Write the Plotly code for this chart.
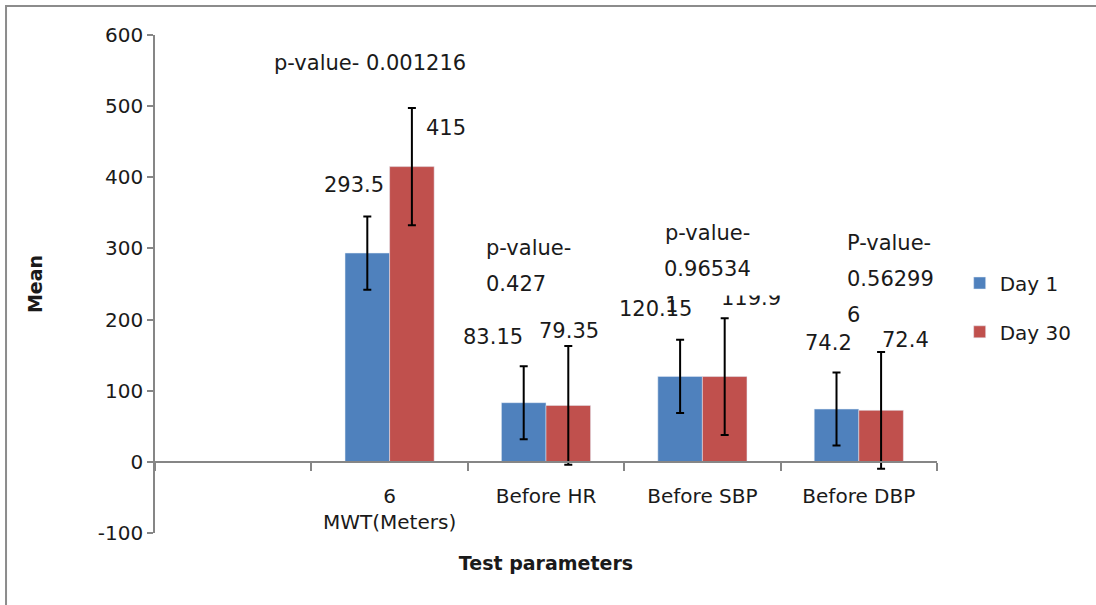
import plotly.graph_objects as go

categories = [" ", "6<br>MWT(Meters)", "Before HR", "Before SBP", "Before DBP"]
day1 = [None, 293.5, 83.15, 120.15, 74.2]
day30 = [None, 415, 79.35, 119.9, 72.4]
day1_err = [None, 51.5, 51.3, 51.5, 51.3]
day30_err = [None, 82.5, 83.5, 82.0, 82.0]
day1_labels = ["", "293.5", "83.15", "120.15", "74.2"]
day30_labels = ["", "415", "79.35", "119.9", "72.4"]
p_texts = ["", "p-value- 0.001216", "p-value-<br>0.427", "p-value-<br>0.96534<br>1", "P-value-<br>0.56299<br>6"]
y_ticks = [-100, 0, 100, 200, 300, 400, 500, 600]
y_ticktext = ["-100", "0", "100", "200", "300", "400", "500", "600"]

FONT = "'DejaVu Sans', sans-serif"
TXT = "#1a1a1a"
BLUE = "#4F81BD"
RED = "#C0504D"
GRAY = "#868686"
ANN = 21

fig = go.Figure()
fig.add_trace(go.Bar(
    name="Day 1", x=categories, y=day1, marker_color=BLUE, legend="legend", showlegend=True,
    error_y=dict(type="data", array=day1_err, visible=True, color="black", thickness=2, width=4),
))
fig.add_trace(go.Bar(
    name="Day 30", x=categories, y=day30, marker_color=RED, legend="legend2", showlegend=True,
    error_y=dict(type="data", array=day30_err, visible=True, color="black", thickness=2, width=4),
))

# value label offsets (px) relative to bar top and category centre
d1_off = [None, (-36, 68), (-53, 66), (-47, 67), (-30, 66)]
d30_off = [None, (56, 39), (23, 74), (49, 79), (47, 70)]
annotations = []
for i, c in enumerate(categories):
    if day1[i] is None:
        continue
    annotations.append(dict(x=c, y=day1[i], xref="x", yref="y", text=day1_labels[i], showarrow=False,
                            xshift=d1_off[i][0], yshift=d1_off[i][1], font=dict(size=ANN, color=TXT, family=FONT)))
    annotations.append(dict(x=c, y=day30[i], xref="x", yref="y", text=day30_labels[i], showarrow=False,
                            xshift=d30_off[i][0], yshift=d30_off[i][1], font=dict(size=ANN, color=TXT, family=FONT)))

# p-value text boxes (one annotation per line; one line has an opaque box as in the source)
p_pos = [None, (-20, 561, "center"), (-62, 301, "left"), (-39, 322, "left"), (-14, 308, "left")]
p_bg_line = [None, None, None, 1, None]
for i, c in enumerate(categories):
    if not p_texts[i]:
        continue
    xs, yv, anc = p_pos[i]
    lines = p_texts[i].split("<br>")
    order = list(range(len(lines)))
    if p_bg_line[i] is not None:
        order.remove(p_bg_line[i])
        order.insert(0, p_bg_line[i])
    for j in order:
        a = dict(x=c, y=yv, xref="x", yref="y", text=lines[j], showarrow=False,
                 xanchor=anc, align="left", xshift=xs, yshift=-36 * j,
                 font=dict(size=ANN, color=TXT, family=FONT))
        if j == p_bg_line[i]:
            a.update(bgcolor="white", width=122, height=52, valign="middle", borderpad=0)
        annotations.append(a)

fig.update_layout(
    width=1096, height=605,
    margin=dict(l=155, r=159, t=35, b=72),
    paper_bgcolor="white", plot_bgcolor="white",
    font=dict(family=FONT, size=20, color=TXT),
    showlegend=True,
    barmode="group", bargap=0.43, bargroupgap=0,
    annotations=annotations,
    legend=dict(x=1.029, y=0.502, xanchor="left", yanchor="middle", bgcolor="rgba(0,0,0,0)",
                font=dict(size=20, color=TXT, family=FONT)),
    legend2=dict(x=1.029, y=0.404, xanchor="left", yanchor="middle", bgcolor="rgba(0,0,0,0)",
                 font=dict(size=20, color=TXT, family=FONT)),
    shapes=[dict(type="rect", xref="paper", yref="paper", x0=-0.1905, x1=1.4, y0=-0.4, y1=1.0582,
                 line=dict(color="#8c8c8c", width=2), fillcolor="rgba(0,0,0,0)", layer="below")],
)
fig.update_xaxes(
    type="category", categoryorder="array", categoryarray=categories, range=[-0.5, 4.5],
    anchor="free", position=100 / 700, showline=True, linecolor=GRAY, linewidth=1.5,
    ticks="outside", tickson="boundaries", ticklen=8, tickcolor=GRAY, tickwidth=1.5,
    ticklabelstandoff=16,
    showgrid=False, zeroline=False,
    tickfont=dict(size=20, color=TXT, family=FONT),
    title=dict(text="<b>Test parameters</b>", font=dict(size=19, color=TXT, family=FONT), standoff=23),
)
fig.update_yaxes(
    range=[-100, 600], tickvals=y_ticks, ticktext=y_ticktext, showline=True, linecolor=GRAY, linewidth=1.5,
    ticks="outside", ticklen=6, tickcolor=GRAY, tickwidth=1.5,
    showgrid=False, zeroline=False,
    tickfont=dict(size=20, color=TXT, family=FONT),
    title=dict(text="<b>Mean</b>", font=dict(size=19, color=TXT, family=FONT), standoff=50),
)
fig.write_html("out.html", config={"displayModeBar": False},
               post_script="document.body.style.margin='0';")
